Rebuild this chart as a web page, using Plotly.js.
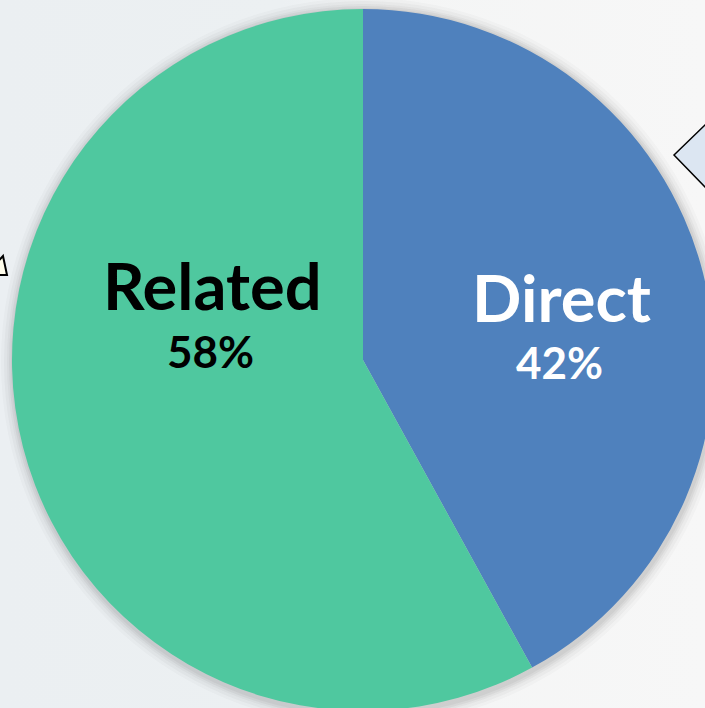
<!DOCTYPE html>
<html>
<head>
<meta charset="utf-8">
<script src="https://cdn.plot.ly/plotly-3.0.1.min.js"></script>
<style>
  html, body { margin: 0; padding: 0; overflow: hidden; width: 705px; height: 708px; }
  body { background: linear-gradient(to right, #EBEFF2 0%, #ECF0F2 40%, #F4F5F5 55%, #F7F7F7 100%); }
  #chart { position: absolute; left: 0; top: 0; }
</style>
</head>
<body>
<div id="chart"></div>
<script>
const labels = ['Direct', 'Related'];
const values = [42, 58];
const colors = ['#4F81BD', '#4FC89F'];
const textColors = ['#FFFFFF', '#000000'];

const W = 714, H = 711, ML = 12, MT = 9, PW = 702, PH = 702;
const px = x => (x - ML) / PW;
const py = y => 1 - (y - MT) / PH;

// label placement (pixels in the page)
const labelPos = { Direct: [561, 297], Related: [212, 285] };
const pctPos = { Direct: [559, 362], Related: [210, 351] };

const annotations = [];
labels.forEach((lab, i) => {
  annotations.push({
    xref: 'paper', yref: 'paper', x: px(labelPos[lab][0]), y: py(labelPos[lab][1]),
    xanchor: 'center', yanchor: 'middle', showarrow: false, text: lab,
    font: { family: 'Lato', size: 65, weight: 700, color: textColors[i] }
  });
  annotations.push({
    xref: 'paper', yref: 'paper', x: px(pctPos[lab][0]), y: py(pctPos[lab][1]),
    xanchor: 'center', yanchor: 'middle', showarrow: false, text: values[i] + '%',
    font: { family: 'Lato', size: 44, weight: 700, color: textColors[i] }
  });
});

const shapes = [];
// soft shadow around the pie
[[12, 0.025], [9, 0.035], [6, 0.045], [4, 0.055], [2, 0.06]].forEach(([d, op]) => {
  shapes.push({
    type: 'circle', xref: 'paper', yref: 'paper', layer: 'below',
    x0: px(363 - 351 - d + 1), x1: px(363 + 351 + d + 1),
    y0: py(360 + 351 + d + 3), y1: py(360 - 351 - d + 1),
    fillcolor: 'rgba(60,60,60,' + op + ')', line: { width: 0 }
  });
});
// decorative arrow tips at the edges
const path = pts => 'M ' + pts.map(p => px(p[0]) + ',' + py(p[1])).join(' L ') + ' Z';
shapes.push({
  type: 'path', xref: 'paper', yref: 'paper', layer: 'below',
  path: path([[-14, 275], [3, 256], [7, 275]]),
  fillcolor: '#FFFDEB', line: { color: '#000000', width: 2 }
});
shapes.push({
  type: 'path', xref: 'paper', yref: 'paper', layer: 'below',
  path: path([[674, 155], [706, 124], [730, 150], [706, 188]]),
  fillcolor: '#DCE6F2', line: { color: '#000000', width: 1.5 }
});

const data = [{
  type: 'pie',
  labels: labels,
  values: values,
  marker: { colors: colors, line: { width: 0 } },
  sort: false,
  direction: 'clockwise',
  rotation: 0,
  textinfo: 'none',
  hoverinfo: 'label+percent',
  showlegend: false,
  domain: { x: [0, 1], y: [0, 1] }
}];

const layout = {
  width: W, height: H,
  margin: { l: ML, r: W - ML - PW, t: MT, b: H - MT - PH, pad: 0 },
  paper_bgcolor: 'rgba(0,0,0,0)',
  plot_bgcolor: 'rgba(0,0,0,0)',
  showlegend: false,
  annotations: annotations,
  shapes: shapes
};

Plotly.newPlot('chart', data, layout, { displayModeBar: false, staticPlot: true });
</script>
</body>
</html>
